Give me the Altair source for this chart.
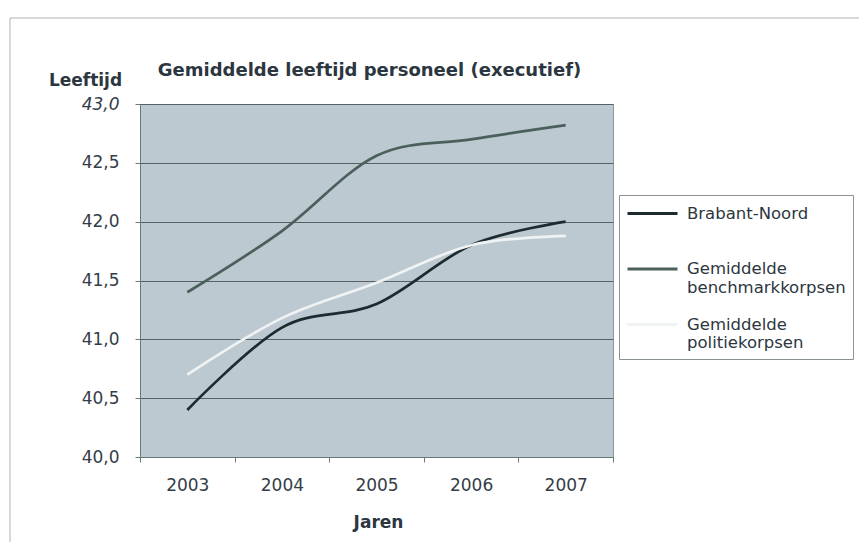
import altair as alt
import pandas as pd

# ---- data ----
years = ["2003", "2004", "2005", "2006", "2007"]
brabant_noord = [40.4, 41.1, 41.3, 41.8, 42.0]
benchmarkkorpsen = [41.4, 41.92, 42.56, 42.7, 42.82]
politiekorpsen = [40.7, 41.18, 41.48, 41.8, 41.88]
series_names = ["Brabant-Noord", "Gemiddelde benchmarkkorpsen", "Gemiddelde politiekorpsen"]
series_colors = ["#1d2a2e", "#4b5f5b", "#f0f3f3"]
y_ticks = [40.0, 40.5, 41.0, 41.5, 42.0, 42.5, 43.0]

rows = []
for name, vals in zip(series_names, [brabant_noord, benchmarkkorpsen, politiekorpsen]):
    for yr, v in zip(years, vals):
        rows.append({"Jaar": yr, "Leeftijd": v, "Reeks": name})
df = pd.DataFrame(rows)

FONT = "DejaVu Sans"
TXT = "#343d47"
AXC = "#6b767c"

lines = alt.Chart(df).mark_line(interpolate="cardinal", strokeWidth=2.7).encode(
    x=alt.X(
        "Jaar:O",
        sort=years,
        scale=alt.Scale(type="band", paddingInner=0, paddingOuter=0),
        axis=alt.Axis(
            labelAngle=0, labelFont=FONT, labelFontSize=17, labelColor=TXT,
            labelBaseline="alphabetic", labelPadding=28,
            tickBand="extent", tickSize=5, tickColor=AXC, domainColor=AXC,
            grid=False,
            title="Jaren", titleFont=FONT, titleFontSize=17, titleFontWeight="bold",
            titleColor="#2c3640", titleBaseline="alphabetic", titleY=70, titleX=238,
        ),
    ),
    y=alt.Y(
        "Leeftijd:Q",
        scale=alt.Scale(domain=[40, 43], nice=False, zero=False),
        axis=alt.Axis(
            values=y_ticks,
            labelExpr="replace(format(datum.value, '.1f'), '.', ',')",
            labelFont=FONT, labelFontSize=17, labelColor=TXT, labelPadding=16,
            labelFontStyle={"condition": {"test": "datum.value == 43", "value": "italic"}, "value": "normal"},
            tickSize=5, tickColor=AXC, domainColor=AXC,
            grid=True, gridColor="#566065", gridWidth=1,
            title="Leeftijd", titleFont=FONT, titleFontSize=17, titleFontWeight="bold",
            titleColor="#2c3640", titleAngle=0, titleAlign="center",
            titleBaseline="alphabetic", titleX=-55, titleY=-19,
        ),
    ),
    color=alt.Color(
        "Reeks:N",
        scale=alt.Scale(domain=series_names, range=series_colors),
        legend=alt.Legend(
            title=None, orient="none", legendX=479, legendY=91, direction="vertical",
            labelFont=FONT, labelFontSize=16.5, labelColor="#2c3640", labelLimit=300,
            labelExpr="indexof(datum.label, 'Gemiddelde ') == 0 ? ['Gemiddelde', substring(datum.label, 11)] : [datum.label, '']",
            symbolType="M-1,0H4", symbolSize=400, symbolStrokeWidth=3, labelOffset=38,
            padding=7, fillColor="white", strokeColor="#8a9296", rowPadding=16.5,
            labelBaseline="middle",
        ),
    ),
)

frame = alt.Chart(pd.DataFrame({"k": [0]})).mark_rect(
    fill="transparent", stroke="#aeb4b8", strokeWidth=1
).encode(x=alt.value(-130), x2=alt.value(760), y=alt.value(-86), y2=alt.value(470))

chart = alt.layer(frame, lines).properties(
    width=473,
    height=353,
    autosize=alt.AutoSizeParams(type="none"),
    padding={"left": 132, "top": 96, "right": 246, "bottom": 85},
    title=alt.TitleParams(
        "Gemiddelde leeftijd personeel (executief)", font=FONT, fontSize=18,
        fontWeight="bold", color="#2c3640", anchor="middle", frame="group",
        baseline="alphabetic", offset=28, dy=104, dx=-7,
    ),
).configure_view(fill="#bdc9d1", stroke="#8c979c")

chart.save("out.html", embed_options={"renderer": "svg", "actions": False})
